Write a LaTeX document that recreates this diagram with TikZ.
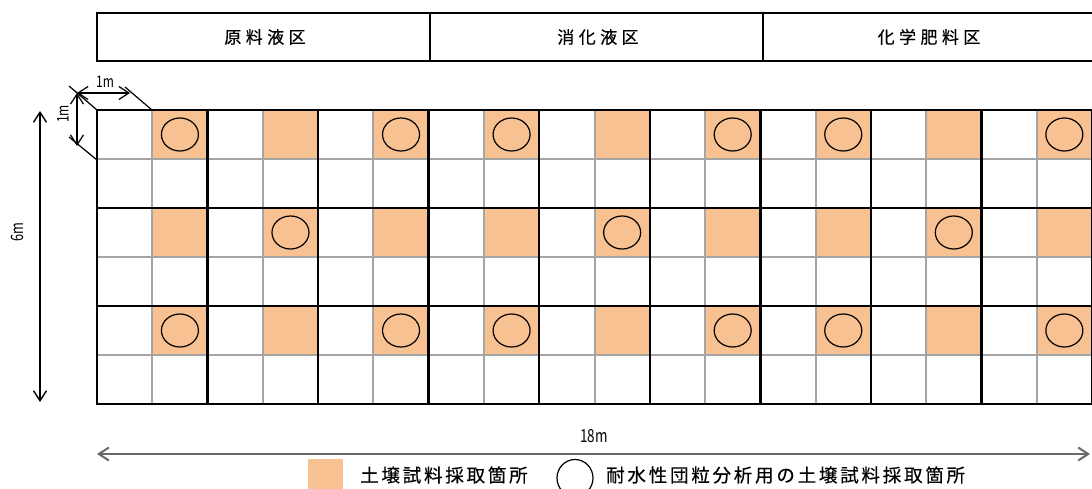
\documentclass[tikz,border=0pt]{standalone}
\usepackage{fontspec}
\setmainfont{Noto Sans CJK JP}
\usetikzlibrary{arrows.meta}
\definecolor{soil}{RGB}{248,193,145}
\definecolor{gridgray}{RGB}{165,165,165}
\definecolor{dimgray}{RGB}{105,105,105}
\tikzset{
  blackline/.style={line width=2.5pt, black, line cap=rect},
  grayline/.style={line width=2pt, gridgray},
  cellfill/.style={fill=soil},
  sample/.style={draw=black, line width=1.2pt},
  dimarrow/.style={line width=1.2pt, black, {Straight Barb[length=10pt,width=13pt]}-{Straight Barb[length=10pt,width=13pt]}},
  extline/.style={line width=1.2pt, black},
  headtext/.style={font=\fontsize{17}{20}\selectfont\addfontfeatures{LetterSpace=26,FakeBold=0.4}, inner sep=0pt},
  legendtext/.style={font=\fontsize{18.5}{22}\selectfont\addfontfeatures{LetterSpace=15,FakeBold=0.4}, inner sep=0pt, anchor=west},
  dimtext/.style={inner sep=0pt},
}
\newcommand\narrowtxt[2]{{\fontsize{#1}{#1}\selectfont\scalebox{0.75}[1]{#2}}}
\begin{document}
\begin{tikzpicture}[x=1pt,y=-1pt]
\useasboundingbox (0,0) rectangle (1092,489);
\clip (0,0) rectangle (1092,489);
\pgfmathsetmacro\cw{995/18}
% shaded cells
\foreach \r in {0,2,4}{
  \foreach \c in {1,3,...,17}{
    \fill[cellfill] ({97+\c*\cw},{110+\r*49}) rectangle ++(\cw,49);
  }
}
% circles
\foreach \r/\c in {0/1,0/5,0/7,0/11,0/13,0/17,2/3,2/9,2/15,4/1,4/5,4/7,4/11,4/13,4/17}{
  \draw[sample] ({97+(\c+0.5)*\cw},{110+(\r+0.5)*49}) ellipse (18.5 and 16.5);
}
% gray grid lines
\foreach \c in {1,3,...,17}{
  \draw[grayline] ({97+\c*\cw},110) -- ({97+\c*\cw},404);
}
\foreach \r in {1,3,5}{
  \draw[grayline] (97,{110+\r*49}) -- (1092,{110+\r*49});
}
% black grid lines
\foreach \c in {0,2,...,18}{
  \draw[blackline] ({97+\c*\cw},110) -- ({97+\c*\cw},404);
}
\foreach \r in {0,2,4,6}{
  \draw[blackline] (97,{110+\r*49}) -- (1094,{110+\r*49});
}
% header
\draw[line width=2.5pt] (97,13) rectangle (1100,61);
\draw[line width=2.5pt] (430,13) -- (430,61);
\draw[line width=2.5pt] (763,13) -- (763,61);
\node[headtext] (h1) at (265,37) {原料液区};
\node[headtext] (h2) at (598,37) {消化液区};
\node[headtext] (h3) at (929,37) {化学肥料区};
% 1m dimensions
\coordinate (c0) at (77,93);
\coordinate (cx) at (130,93);
\coordinate (cy) at (77,146);
\coordinate (e1a) at (69,86);
\coordinate (e1b) at (97,110);
\coordinate (e2a) at (125,87);
\coordinate (e2b) at (152,110);
\coordinate (e3a) at (69,137);
\coordinate (e3b) at (97,160);
\draw[extline] (e1a) -- (e1b);
\draw[extline] (e2a) -- (e2b);
\draw[extline] (e3a) -- (e3b);
\draw[dimarrow] (c0) -- (cx);
\draw[dimarrow] (c0) -- (cy);
\node[dimtext] (m1h) at (105,82) {\narrowtxt{16}{1m}};
\node[dimtext, rotate=90] (m1v) at (63,114) {\narrowtxt{16}{1m}};
% 6m
\coordinate (s6a) at (40,111);
\coordinate (s6b) at (40,402);
\draw[dimarrow, line width=1.4pt] (s6a) -- (s6b);
\node[dimtext, rotate=90] (m6) at (17,232) {\narrowtxt{17}{6m}};
% 18m
\coordinate (s18a) at (97,454);
\coordinate (s18b) at (1090,454);
\draw[dimarrow, draw=dimgray, line width=2pt] (s18a) -- (s18b);
\node[dimtext] (m18) at (594,436) {\narrowtxt{18}{18m}};
% legend
\fill[cellfill] (308,459) rectangle (343,495);
\node[legendtext] (l1) at (360,475) {土壌試料採取箇所};
\draw[sample] (575,478) ellipse (18 and 18.5);
\node[legendtext] (l2) at (606,475) {耐水性団粒分析用の土壌試料採取箇所};
\end{tikzpicture}
\end{document}
